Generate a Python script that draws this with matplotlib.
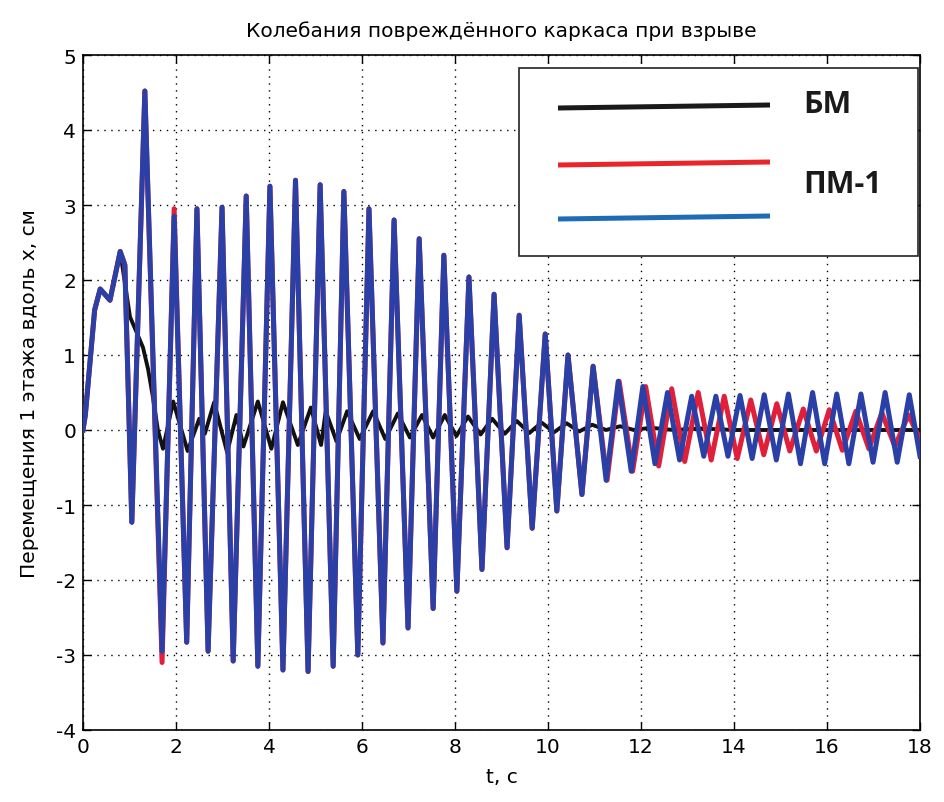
import matplotlib
matplotlib.use("Agg")
import matplotlib.pyplot as plt
from matplotlib.patches import Rectangle

plt.rcParams["axes.unicode_minus"] = False

# ---- data ----
bm_t = [0.0, 0.05, 0.25, 0.37, 0.58, 0.80, 1.01, 1.12, 1.29, 1.40, 1.50, 1.61, 1.72,
        1.94, 2.25, 2.50, 2.62, 2.82, 3.10, 3.30, 3.45, 3.76, 4.05, 4.30, 4.62, 4.90,
        5.12, 5.22, 5.45, 5.68, 5.95, 6.24, 6.50, 6.77, 7.03, 7.29, 7.53, 7.78, 8.03,
        8.28, 8.55, 8.80, 9.07, 9.33, 9.60, 9.86, 10.13, 10.40, 10.67, 10.95, 11.25,
        11.55, 11.85, 12.2, 12.7, 13.3, 14.0, 15.0, 16.0, 17.0, 18.0]
bm_v = [0.0, 0.20, 1.60, 1.88, 1.73, 2.38, 1.51, 1.35, 1.10, 0.81, 0.45, 0.00, -0.25,
        0.38, -0.28, 0.15, -0.05, 0.37, -0.30, 0.20, -0.22, 0.38, -0.25, 0.37, -0.20, 0.30,
        -0.20, 0.25, -0.15, 0.25, -0.12, 0.25, -0.12, 0.22, -0.10, 0.20, -0.10, 0.20, -0.08,
        0.18, -0.06, 0.15, -0.05, 0.12, -0.04, 0.10, -0.03, 0.09, -0.02, 0.07, 0.0,
        0.05, 0.0, 0.03, 0.0, 0.02, 0.0, 0.0, 0.0, 0.0, 0.0]

pm_blue_t = [0.0, 0.05, 0.25, 0.37, 0.58, 0.80, 0.90, 1.05, 1.33, 1.70, 1.96, 2.23, 2.45,
             2.69, 2.99, 3.23, 3.51, 3.76, 4.02, 4.30, 4.57, 4.84, 5.10, 5.38, 5.61,
             5.91, 6.15, 6.45, 6.69, 6.99, 7.23, 7.53, 7.76, 8.04, 8.30, 8.58, 8.84,
             9.12, 9.38, 9.66, 9.94, 10.19, 10.43, 10.73, 10.97, 11.25, 11.51, 11.79,
             12.04, 12.30, 12.57, 12.83, 13.09, 13.35, 13.61, 13.87, 14.13, 14.39,
             14.65, 14.91, 15.17, 15.43, 15.69, 15.95, 16.21, 16.47, 16.73, 16.99,
             17.25, 17.51, 17.77, 18.0]
pm_blue_v = [0.0, 0.20, 1.60, 1.88, 1.73, 2.38, 2.20, -1.23, 4.52, -2.95, 2.85, -2.83, 2.95,
             -2.95, 2.97, -3.08, 3.12, -3.15, 3.25, -3.20, 3.33, -3.22, 3.27, -3.15, 3.18,
             -3.00, 2.95, -2.84, 2.80, -2.64, 2.55, -2.38, 2.33, -2.15, 2.04, -1.86, 1.81,
             -1.57, 1.53, -1.31, 1.28, -1.08, 1.00, -0.86, 0.85, -0.67, 0.65, -0.55,
             0.58, -0.45, 0.50, -0.40, 0.45, -0.35, 0.45, -0.35, 0.46, -0.38,
             0.47, -0.40, 0.48, -0.45, 0.50, -0.45, 0.48, -0.45, 0.48, -0.43,
             0.50, -0.43, 0.47, -0.35]

pm_red_t = [0.0, 0.05, 0.25, 0.37, 0.58, 0.80, 0.90, 1.05, 1.33, 1.70, 1.96, 2.23, 2.45,
            2.69, 2.99, 3.23, 3.51, 3.76, 4.02, 4.30, 4.57, 4.84, 5.10, 5.38, 5.61,
            5.91, 6.15, 6.45, 6.69, 6.99, 7.23, 7.53, 7.76, 8.04, 8.30, 8.58, 8.84,
            9.12, 9.38, 9.66, 9.94, 10.19, 10.43, 10.73, 10.97, 11.27, 11.53, 11.82,
            12.10, 12.38, 12.66, 12.94, 13.23, 13.51, 13.79, 14.07, 14.36, 14.64,
            14.92, 15.20, 15.49, 15.77, 16.05, 16.33, 16.62, 16.90, 17.18, 17.46,
            17.75, 18.0]
pm_red_v = [0.0, 0.20, 1.60, 1.88, 1.73, 2.38, 2.20, -1.23, 4.52, -3.10, 2.95, -2.83, 2.95,
            -2.95, 2.97, -3.08, 3.12, -3.15, 3.25, -3.20, 3.33, -3.22, 3.27, -3.15, 3.18,
            -3.00, 2.95, -2.84, 2.80, -2.64, 2.55, -2.38, 2.33, -2.15, 2.04, -1.86, 1.81,
            -1.57, 1.53, -1.31, 1.28, -1.08, 1.00, -0.86, 0.85, -0.67, 0.65, -0.55,
            0.58, -0.48, 0.55, -0.42, 0.50, -0.40, 0.45, -0.38, 0.40, -0.33,
            0.35, -0.28, 0.28, -0.28, 0.27, -0.27, 0.25, -0.25, 0.23, -0.22,
            0.20, -0.12]

title = "Колебания повреждённого каркаса при взрыве"
xlabel = "t, c"
ylabel = "Перемещения 1 этажа вдоль x, см"
legend_labels = ["БМ", "ПМ-1"]
x_ticks = [0, 2, 4, 6, 8, 10, 12, 14, 16, 18]
y_ticks = [-4, -3, -2, -1, 0, 1, 2, 3, 4, 5]

# ---- figure ----
W, H = 944, 803
fig = plt.figure(figsize=(W / 100, H / 100), dpi=100)
ax = fig.add_axes([83 / W, 1 - 731 / H, (920 - 83) / W, (731 - 56) / H])

ax.plot(bm_t, bm_v, color="#111111", lw=2.8, zorder=3, solid_joinstyle="round")
ax.plot(pm_red_t, pm_red_v, color="#e0203a", lw=3.6, zorder=4, solid_joinstyle="round")
ax.plot(pm_blue_t, pm_blue_v, color="#2b40a6", lw=3.6, zorder=5, solid_joinstyle="round")

ax.set_xlim(0, 18)
ax.set_ylim(-4, 5)
ax.set_xticks(x_ticks)
ax.set_yticks(y_ticks)
ax.grid(True, color="black", linestyle=(0, (1, 4)), linewidth=1.0)
ax.tick_params(direction="in", length=6, width=1, top=True, right=True,
               labelsize=14.5, pad=5)
for s in ax.spines.values():
    s.set_linewidth(1.2)

ax.set_title(title, fontsize=14.5, pad=14)
ax.set_xlabel(xlabel, fontsize=14.5, labelpad=8)
ax.set_ylabel(ylabel, fontsize=14.5, labelpad=12)

# legend box (drawn like the pasted legend in the reference)
def fx(px):
    return (px - 83) / (920 - 83)

def fy(py):
    return (731 - py) / (731 - 56)

ax.add_patch(Rectangle((fx(519), fy(257)), fx(918) - fx(519), fy(69) - fy(257),
                       transform=ax.transAxes, facecolor="white", edgecolor="#222222",
                       lw=1.2, zorder=10))
leg_colors = ["#1a1a1a", "#e8262a", "#1f6cb5"]
leg_y = [108, 165, 219]
for c, yy in zip(leg_colors, leg_y):
    ax.plot([fx(558), fx(770)], [fy(yy + 1), fy(yy - 2)], transform=ax.transAxes,
            color=c, lw=3.6, zorder=11, solid_capstyle="butt")
ax.text(fx(803), fy(105), legend_labels[0], transform=ax.transAxes, fontsize=22,
        fontweight="bold", family="Open Sans", va="center", ha="left", zorder=12,
        color="#1a1a1a")
ax.text(fx(803), fy(185), legend_labels[1], transform=ax.transAxes, fontsize=22,
        fontweight="bold", family="Open Sans", va="center", ha="left", zorder=12,
        color="#1a1a1a")

fig.savefig("out.png", dpi=100)
